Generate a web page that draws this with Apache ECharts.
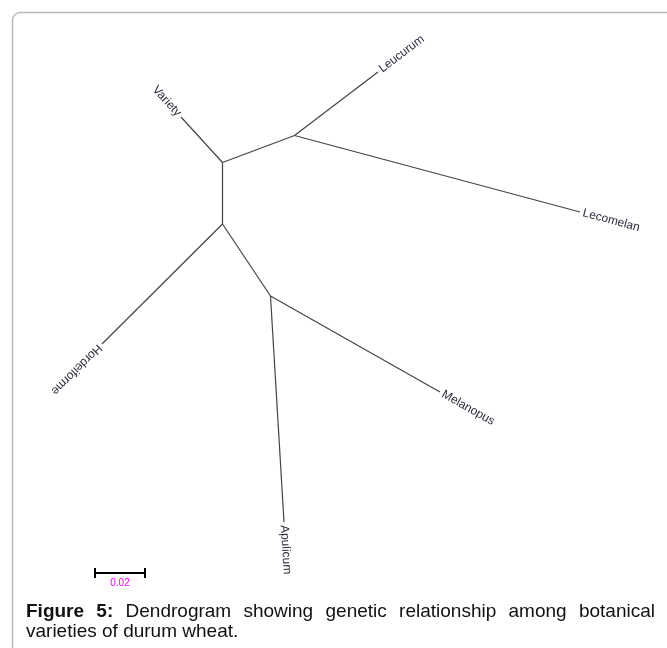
<!DOCTYPE html>
<html>
<head>
<meta charset="utf-8">
<script src="https://cdn.jsdelivr.net/npm/echarts@6/dist/echarts.min.js"></script>
<style>
html,body{margin:0;padding:0;background:#fff;}
#chart{width:667px;height:648px;}
</style>
</head>
<body>
<div id="chart"></div>
<script>
// Tree nodes (tree-distance units; 0.02 = scale bar)
const nodeNames = ['n1','n2','n3','n4','Variety','Leucurum','Lecomelan','Hordeiforme','Melanopus','Apulicum'];
const nodeX = [0.0890, 0.0890, 0.1178, 0.1082, 0.0724, 0.1512, 0.2320, 0.0408, 0.1760, 0.1136];
const nodeY = [0.0650, 0.0896, 0.0542, 0.1184, 0.0468, 0.0288, 0.0848, 0.1376, 0.1568, 0.2088];
// Edges (parent -> child)
const edgeFrom = ['n1','n1','n1','n3','n3','n2','n2','n4','n4'];
const edgeTo   = ['n2','n3','Variety','Leucurum','Lecomelan','Hordeiforme','n4','Melanopus','Apulicum'];
// Leaf labels
const leafNames = ['Variety','Leucurum','Lecomelan','Hordeiforme','Melanopus','Apulicum'];
const leafFlip  = [true, false, false, false, false, false];
// Scale bar
const scaleStart = 0.038, scaleEnd = 0.058, scaleY = 0.2292, scaleLabel = '0.02';
// Caption
const captionBold = 'Figure 5:';
const captionLine1 = 'Dendrogram showing genetic relationship among botanical';
const captionLine2 = 'varieties of durum wheat.';

const idx = n => nodeNames.indexOf(n);
const P = n => [nodeX[idx(n)], nodeY[idx(n)]];
const parentOf = n => edgeFrom[edgeTo.indexOf(n)];

const edgeData = edgeFrom.map((f, i) => ({coords: [P(f), P(edgeTo[i])]}));
const tickH = 0.002;
const scaleData = [
  {coords: [[scaleStart, scaleY], [scaleEnd, scaleY]]},
  {coords: [[scaleStart, scaleY - tickH], [scaleStart, scaleY + tickH]]},
  {coords: [[scaleEnd, scaleY - tickH], [scaleEnd, scaleY + tickH]]}
];
const leafData = leafNames.map((n, i) => {
  const p = P(n), q = P(parentOf(n));
  return [p[0], p[1], q[0], q[1], i];
});

const W = 667, H = 648;
const chart = echarts.init(document.getElementById('chart'), null, {renderer: 'canvas'});

// Caption layout (justified first line)
const FONT = '"Liberation Sans", Arial, sans-serif';
const CFS = 19;
const ctx = document.createElement('canvas').getContext('2d');
function tw(t, bold) { ctx.font = (bold ? 'bold ' : '') + CFS + 'px ' + FONT; return ctx.measureText(t).width; }
const words1 = captionBold.split(' ').map(t => ({t, b:true})).concat(captionLine1.split(' ').map(t => ({t, b:false})));
const capL = 26, capR = 655;
let sumW = 0; words1.forEach(w => { w.w = tw(w.t, w.b); sumW += w.w; });
const gap = (capR - capL - sumW) / (words1.length - 1);
const graphics = [];
let cx = capL;
words1.forEach(w => {
  graphics.push({type:'text', x: cx, y: 612, style:{text: w.t, font: (w.b ? 'bold ' : '') + CFS + 'px ' + FONT, fill:'#111', verticalAlign:'middle'}});
  cx += w.w + gap;
});
graphics.push({type:'text', x: capL, y: 632, style:{text: captionLine2, font: CFS + 'px ' + FONT, fill:'#111', verticalAlign:'middle'}});
graphics.push({type:'rect', shape:{x:12.5, y:12.5, width:800, height:800, r:8}, style:{fill:'none', stroke:'#b8b8b8', lineWidth:1.5}, z:-1});

chart.setOption({
  animation: false,
  backgroundColor: '#fff',
  grid: {left: 0, top: 0, right: 0, bottom: 0},
  xAxis: {type:'value', min:0, max: W * 0.0004, show:false},
  yAxis: {type:'value', min:0, max: H * 0.0004, inverse:true, show:false},
  graphic: graphics,
  series: [
    {type:'lines', coordinateSystem:'cartesian2d', polyline:false, silent:true,
     lineStyle:{color:'#444', width:1.2, opacity:1}, data: edgeData},
    {type:'lines', coordinateSystem:'cartesian2d', polyline:false, silent:true,
     lineStyle:{color:'#000', width:2, opacity:1}, data: scaleData},
    {type:'custom', coordinateSystem:'cartesian2d', silent:true, data: leafData,
     renderItem: function(params, api) {
       const p = api.coord([api.value(0), api.value(1)]);
       const q = api.coord([api.value(2), api.value(3)]);
       const i = api.value(4);
       const a = Math.atan2(p[1] - q[1], p[0] - q[0]);
       const off = 3;
       const flip = leafFlip[i];
       return {type:'text', x: p[0] + off * Math.cos(a), y: p[1] + off * Math.sin(a),
         rotation: flip ? -(a - Math.PI) : -a,
         style:{text: leafNames[i], fontFamily: FONT, fontSize: 12, fill:'#2a2a3a',
           align: flip ? 'right' : 'left', verticalAlign:'middle'}};
     }},
    {type:'custom', coordinateSystem:'cartesian2d', silent:true,
     data: [[(scaleStart + scaleEnd) / 2, scaleY]],
     renderItem: function(params, api) {
       const p = api.coord([api.value(0), api.value(1)]);
       return {type:'text', x: p[0], y: p[1] + 10,
         style:{text: scaleLabel, fontFamily: FONT, fontSize: 10, fill:'#ff00ff', align:'center', verticalAlign:'middle'}};
     }}
  ]
});
</script>
</body>
</html>
